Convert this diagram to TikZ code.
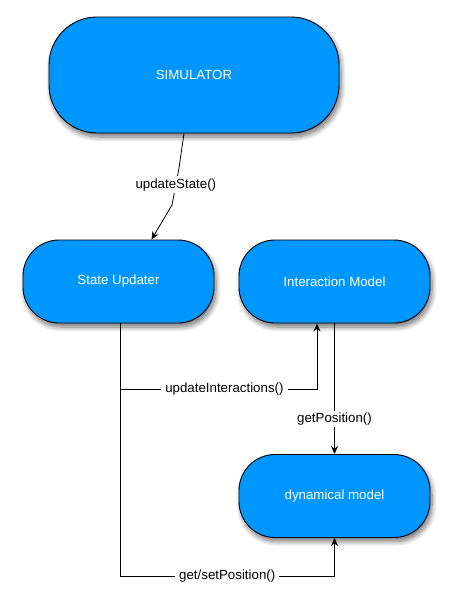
\documentclass[tikz,border=0pt]{standalone}
\usepackage{fontspec}
\setmainfont{Liberation Sans}
\usetikzlibrary{arrows.meta,shadows.blur}
\definecolor{boxblue}{RGB}{0,150,255}
\tikzset{
  box/.style={draw=black, line width=0.9pt, fill=boxblue, text=white,
    font=\fontsize{13.3}{15}\selectfont,
    blur shadow={shadow xshift=2pt, shadow yshift=-4pt, shadow blur steps=8, shadow blur radius=5pt, shadow opacity=55},
    inner sep=0pt},
  bigbox/.style={box, rectangle, rounded corners=48pt, minimum width=290pt, minimum height=116pt},
  smallbox/.style={box, rectangle, rounded corners=36pt, minimum width=191pt, minimum height=83pt},
  conn/.style={draw=black, line width=0.8pt},
  arr/.style={conn, -{Stealth[length=8pt,width=7pt]}},
  lbl/.style={fill=white, text=black, inner xsep=4pt, inner ysep=2pt, font=\fontsize{13.3}{15}\selectfont}
}
\begin{document}
\begin{tikzpicture}[x=1pt,y=-1pt]
\useasboundingbox (0,0) rectangle (452,600);
\node[bigbox] (sim) at (194,75) {SIMULATOR};
\node[smallbox] (su) at (118.5,281.5) {State Updater};
\node[smallbox] (im) at (334.5,281.5) {Interaction Model};
\node[smallbox] (dm) at (334.5,496) {dynamical model};

\coordinate (s1) at (179,168);
\coordinate (s2) at (172,205);
\draw[arr] ([xshift=-10pt]sim.south) -- (s1) -- node[lbl, pos=0.45] {updateState()} (s2) -- ([xshift=33pt]su.north);

\coordinate (c1) at (120,576);
\coordinate (c2) at (334.5,576);
\draw[arr] ([xshift=1.5pt]su.south) -- (c1) -- node[lbl, pos=0.5] {get/setPosition()} (c2) -- (dm.south);

\coordinate (b1) at (120,389);
\coordinate (b2) at (317,389);
\draw[arr] (b1) -- node[lbl, pos=0.53] {updateInteractions()} (b2) -- ([xshift=-17.5pt]im.south);

\draw[arr] (im.south) -- node[lbl, pos=0.73] {getPosition()} (dm.north);
\end{tikzpicture}
\end{document}
